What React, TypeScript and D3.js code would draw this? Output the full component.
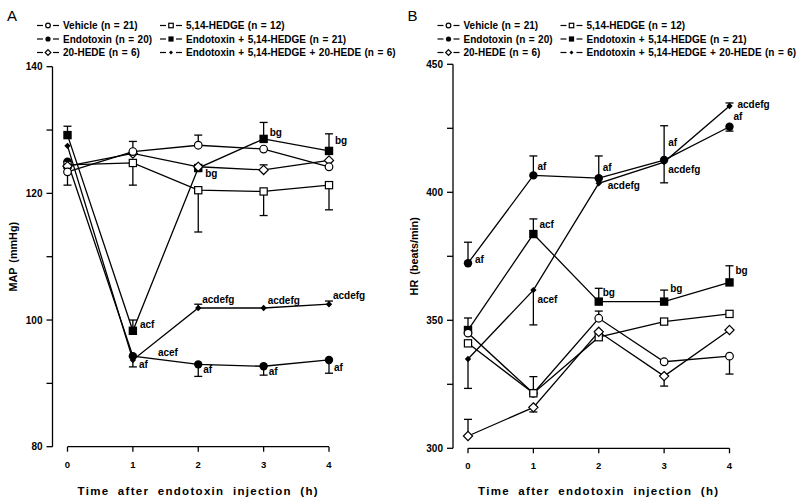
import React from 'react';
import * as d3 from 'd3';

const times = [0, 1, 2, 3, 4];

// Panel A: MAP (mmHg)
const mapVehicle = [123.4, 126.6, 127.6, 127.0, 124.2];
const mapVehicleErr = [-2.1, 1.6, 1.6, 0, 0];
const mapHedge = [124.5, 124.8, 120.5, 120.3, 121.3];
const mapHedgeErr = [0, -3.5, -6.6, -3.8, -3.9];
const mapEndotoxin = [125.0, 94.3, 93.0, 92.7, 93.7];
const mapEndotoxinErr = [0, -1.7, -1.9, -1.4, -2.1];
const mapEndoHedge = [129.2, 98.3, 124.0, 128.6, 126.7];
const mapEndoHedgeErr = [1.4, 1.7, 0, 2.6, 2.7];
const mapHede20 = [124.3, 126.3, 124.2, 123.7, 125.2];
const mapHede20Err = [0, 0, 0, 0.8, 0];
const mapTriple = [127.5, 93.7, 101.9, 101.9, 102.5];
const mapTripleErr = [0, 0, 0.6, 0, 0.5];

// Panel B: HR (beats/min)
const hrVehicle = [345.0, 321.5, 350.8, 333.8, 336.0];
const hrVehicleErr = [0, 0, 2.8, 0, -7];
const hrHedge = [341.0, 321.5, 343.4, 349.5, 352.5];
const hrHedgeErr = [0, 6.5, 0, 0, 0];
const hrEndotoxin = [372.3, 406.6, 405.5, 412.6, 425.6];
const hrEndotoxinErr = [8.2, 7.6, 8.7, 13.4, -1.7];
const hrEndoHedge = [346.2, 383.7, 357.3, 357.3, 364.8];
const hrEndoHedgeErr = [4.7, 5.9, 5.2, 4.5, 6.5];
const hrHede20 = [304.8, 316.0, 345.5, 328.2, 346.2];
const hrHede20Err = [6.5, -1.8, 0, -3.9, 0];
const hrTriple = [334.9, 361.8, 403.5, 411.8, 433.7];
const hrTripleErr = [-11.5, -13.6, 0, -8.1, 1.2];

// tick values
const mapTicks = [80, 90, 100, 110, 120, 130, 140];
const mapTickLabels = [80, 100, 120, 140];
const hrTicks = [300, 325, 350, 375, 400, 425, 450];
const hrTickLabels = [300, 350, 400, 450];

// legend
const legendNames = [
  'Vehicle (n = 21)',
  '5,14-HEDGE (n = 12)',
  'Endotoxin (n = 20)',
  'Endotoxin + 5,14-HEDGE (n = 21)',
  '20-HEDE (n = 6)',
  'Endotoxin + 5,14-HEDGE + 20-HEDE (n = 6)',
];
const legendMarkers = ['oc', 'os', 'fc', 'fs', 'od', 'fd'];

// significance notes: [time, value at baseline, text, dx]
const mapNotes: [number, number, string, number][] = [
  [1, 98.8, 'acf', 7],
  [1, 94.3, 'acef', 25],
  [1, 92.5, 'af', 6],
  [2, 91.6, 'af', 5],
  [3, 91.3, 'af', 5],
  [4, 91.9, 'af', 5],
  [2, 102.7, 'acdefg', 4],
  [3, 102.5, 'acdefg', 4],
  [4, 103.3, 'acdefg', 4],
  [2, 122.6, 'bg', 7],
  [3, 129.1, 'bg', 6],
  [4, 127.8, 'bg', 6],
];
const hrNotes: [number, number, string, number][] = [
  [0, 372.4, 'af', 7],
  [1, 408.8, 'af', 4],
  [2, 408.5, 'af', 4],
  [2, 401.1, 'acdefg', 9],
  [3, 418.0, 'af', 4],
  [3, 407.5, 'acdefg', 4],
  [4, 432.8, 'acdefg', 8],
  [4, 428.2, 'af', 4],
  [1, 386.2, 'acf', 6],
  [1, 356.8, 'acef', 4],
  [2, 359.5, 'bg', 4],
  [3, 361.0, 'bg', 6],
  [4, 368.0, 'bg', 6],
];

const FONT = 'Arial, "Liberation Sans", Helvetica, sans-serif';

type Series = { marker: string; values: number[]; errs: number[] };

const mapSeries: Series[] = [
  { marker: 'fd', values: mapTriple, errs: mapTripleErr },
  { marker: 'fc', values: mapEndotoxin, errs: mapEndotoxinErr },
  { marker: 'fs', values: mapEndoHedge, errs: mapEndoHedgeErr },
  { marker: 'os', values: mapHedge, errs: mapHedgeErr },
  { marker: 'od', values: mapHede20, errs: mapHede20Err },
  { marker: 'oc', values: mapVehicle, errs: mapVehicleErr },
];
const hrSeries: Series[] = [
  { marker: 'fc', values: hrEndotoxin, errs: hrEndotoxinErr },
  { marker: 'fd', values: hrTriple, errs: hrTripleErr },
  { marker: 'fs', values: hrEndoHedge, errs: hrEndoHedgeErr },
  { marker: 'oc', values: hrVehicle, errs: hrVehicleErr },
  { marker: 'os', values: hrHedge, errs: hrHedgeErr },
  { marker: 'od', values: hrHede20, errs: hrHede20Err },
];

function Marker({ type, x, y, s = 1 }: { type: string; x: number; y: number; s?: number }) {
  const sw = 1.2;
  if (type === 'oc') return <circle cx={x} cy={y} r={3.8 * s} fill="#fff" stroke="#000" strokeWidth={sw} />;
  if (type === 'fc') return <circle cx={x} cy={y} r={4.2 * s} fill="#000" />;
  if (type === 'os') { const h = 3.6 * s; return <rect x={x - h} y={y - h} width={2 * h} height={2 * h} fill="#fff" stroke="#000" strokeWidth={sw} />; }
  if (type === 'fs') { const h = 4.2 * s; return <rect x={x - h} y={y - h} width={2 * h} height={2 * h} fill="#000" />; }
  if (type === 'od') { const h = 4.6 * s; return <path d={`M${x},${y - h}L${x + h},${y}L${x},${y + h}L${x - h},${y}Z`} fill="#fff" stroke="#000" strokeWidth={sw} />; }
  const h = 3.2 * s;
  return <path d={`M${x},${y - h}L${x + h},${y}L${x},${y + h}L${x - h},${y}Z`} fill="#000" />;
}

function Panel(props: {
  ox: number; letter: string; yLabel: string; series: Series[];
  ticks: number[]; tickLabels: number[]; domain: [number, number]; yr: [number, number];
  notes: [number, number, string, number][];
}) {
  const { ox, letter, yLabel, series, ticks, tickLabels, domain, yr, notes } = props;
  const x = d3.scaleLinear().domain([0, 4]).range([ox + 67.5, ox + 329]);
  const y = d3.scaleLinear().domain(domain).range(yr);
  const axisX = ox + 52.5;
  const line = d3.line<number>().x((_, i) => x(times[i])).y((d) => y(d));
  const cap = 4;
  return (
    <g fontFamily={FONT}>
      <text x={ox + 7} y={21} fontSize={15} fill="#000">{letter}</text>
      {/* legend */}
      {legendNames.map((n, i) => {
        const col = i % 2, row = Math.floor(i / 2);
        const sx = ox + (col === 0 ? 37 : 160);
        const ly = 25.5 + row * 13.5;
        return (
          <g key={n}>
            <line x1={sx} x2={sx + 6} y1={ly} y2={ly} stroke="#000" strokeWidth={1.2} />
            <line x1={sx + 16} x2={sx + 22} y1={ly} y2={ly} stroke="#000" strokeWidth={1.2} />
            <Marker type={legendMarkers[i]} x={sx + 11} y={ly} s={0.62} />
            <text x={sx + 26} y={ly + 3.6} fontSize={10} fontWeight="bold" wordSpacing={0.7}>{n}</text>
          </g>
        );
      })}
      {/* y axis */}
      <line x1={axisX} x2={axisX} y1={y(domain[0])} y2={y(domain[1])} stroke="#000" strokeWidth={1.3} />
      {ticks.map((t) => (
        <line key={t} x1={axisX - 6} x2={axisX} y1={y(t)} y2={y(t)} stroke="#000" strokeWidth={1.3} />
      ))}
      {tickLabels.map((t) => (
        <text key={t} x={axisX - 10} y={y(t) + 3.5} fontSize={10} fontWeight="bold" textAnchor="end">{t}</text>
      ))}
      <text transform={`translate(${ox + 17},${(yr[0] + yr[1]) / 2}) rotate(-90)`} fontSize={10.8} fontWeight="bold" textAnchor="middle" wordSpacing={2}>{yLabel}</text>
      {/* x axis */}
      <line x1={x(0)} x2={x(4)} y1={yr[0]} y2={yr[0]} stroke="#000" strokeWidth={1.3} />
      {times.map((t) => (
        <g key={t}>
          <line x1={x(t)} x2={x(t)} y1={yr[0]} y2={yr[0] + 5} stroke="#000" strokeWidth={1.3} />
          <text x={x(t)} y={yr[0] + 21} fontSize={9.5} fontWeight="bold" textAnchor="middle">{t}</text>
        </g>
      ))}
      <text x={(x(0) + x(4)) / 2} y={495} fontSize={11.5} fontWeight="bold" textAnchor="middle" letterSpacing={1.3} wordSpacing={4}>Time after endotoxin injection (h)</text>
      {/* lines */}
      {series.map((s, k) => (
        <path key={k} d={line(s.values) || ''} fill="none" stroke="#000" strokeWidth={1.3} />
      ))}
      {/* error bars */}
      {series.map((s, k) => s.errs.map((e, i) => e === 0 ? null : (
        <g key={`${k}-${i}`} stroke="#000" strokeWidth={1.3}>
          <line x1={x(times[i])} x2={x(times[i])} y1={y(s.values[i])} y2={y(s.values[i] + e)} />
          <line x1={x(times[i]) - cap} x2={x(times[i]) + cap} y1={y(s.values[i] + e)} y2={y(s.values[i] + e)} />
        </g>
      )))}
      {/* markers */}
      {series.map((s, k) => s.values.map((v, i) => (
        <Marker key={`${k}-${i}`} type={s.marker} x={x(times[i])} y={y(v)} />
      )))}
      {/* notes */}
      {notes.map(([t, v, txt, dx], i) => (
        <text key={i} x={x(t) + dx} y={y(v)} fontSize={10} fontWeight="bold">{txt}</text>
      ))}
    </g>
  );
}

export default function App() {
  return (
    <svg width={800} height={504} style={{ position: 'absolute', left: 0, top: 0, background: '#fff' }}>
      <rect width={800} height={504} fill="#fff" />
      <Panel ox={0} letter="A" yLabel="MAP (mmHg)" series={mapSeries} ticks={mapTicks} tickLabels={mapTickLabels}
        domain={[80, 140]} yr={[446.7, 66.7]} notes={mapNotes} />
      <Panel ox={400.5} letter="B" yLabel="HR (beats/min)" series={hrSeries} ticks={hrTicks} tickLabels={hrTickLabels}
        domain={[300, 450]} yr={[448.3, 64.3]} notes={hrNotes} />
    </svg>
  );
}
